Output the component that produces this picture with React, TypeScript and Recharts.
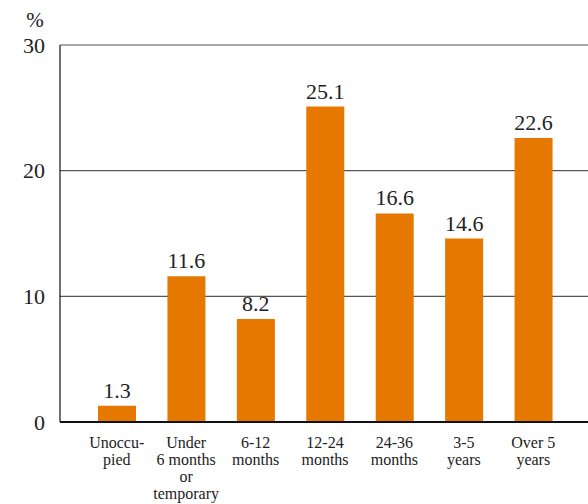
import { BarChart, Bar, XAxis, YAxis, CartesianGrid, LabelList } from "recharts";

const categories = [
  ["Unoccu-", "pied"],
  ["Under", "6 months", "or", "temporary"],
  ["6-12", "months"],
  ["12-24", "months"],
  ["24-36", "months"],
  ["3-5", "years"],
  ["Over 5", "years"],
];
const shares = [1.3, 11.6, 8.2, 25.1, 16.6, 14.6, 22.6];
const yTicks = [0, 10, 20, 30];

const data = categories.map((lines, i) => ({ name: lines.join(" "), value: shares[i] }));

const FONT = "Liberation Serif, serif";
const ORANGE = "#E67800";

const CategoryTick = ({ x, y, index }: any) => {
  const lines = categories[index] || [];
  return (
    <text x={x} y={y} textAnchor="middle" fill="#222" fontSize={16} fontFamily={FONT}>
      {lines.map((l, i) => (
        <tspan key={i} x={x} dy={i === 0 ? 20 : 17} fontFamily={FONT}>
          {l}
        </tspan>
      ))}
    </text>
  );
};

export default function App() {
  return (
    <div style={{ position: "absolute", left: 0, top: 0, width: 588, height: 504, background: "#fff", fontFamily: FONT }}>
      <BarChart
        width={588}
        height={504}
        data={data}
        margin={{ top: 45, right: 0, left: 0, bottom: 0 }}
        barCategoryGap={0}
        style={{ fontFamily: FONT }}
      >
        <CartesianGrid horizontal vertical={false} stroke="#555" strokeWidth={1.2} />
        <XAxis
          dataKey="name"
          interval={0}
          height={82}
          padding={{ left: 22, right: 20 }}
          axisLine={{ stroke: "#111", strokeWidth: 2 }}
          tickLine={false}
          tickSize={0}
          tickMargin={6}
          tick={<CategoryTick />}
        />
        <YAxis
          domain={[0, 30]}
          ticks={yTicks}
          width={60}
          axisLine={{ stroke: "#111", strokeWidth: 1.2 }}
          tickLine={false}
          tickSize={0}
          tickMargin={15}
          tick={{ fill: "#222", fontSize: 22, fontFamily: FONT }}
        />
        <Bar dataKey="value" fill={ORANGE} barSize={38} isAnimationActive={false}>
          <LabelList dataKey="value" position="top" offset={8} fill="#222" fontSize={22} fontFamily={FONT} />
        </Bar>
      </BarChart>
      <svg width={588} height={504} style={{ position: "absolute", left: 0, top: 0, pointerEvents: "none" }}>
        <text x={35} y={27} textAnchor="middle" fill="#222" fontSize={21} fontFamily={FONT}>
          %
        </text>
      </svg>
    </div>
  );
}
